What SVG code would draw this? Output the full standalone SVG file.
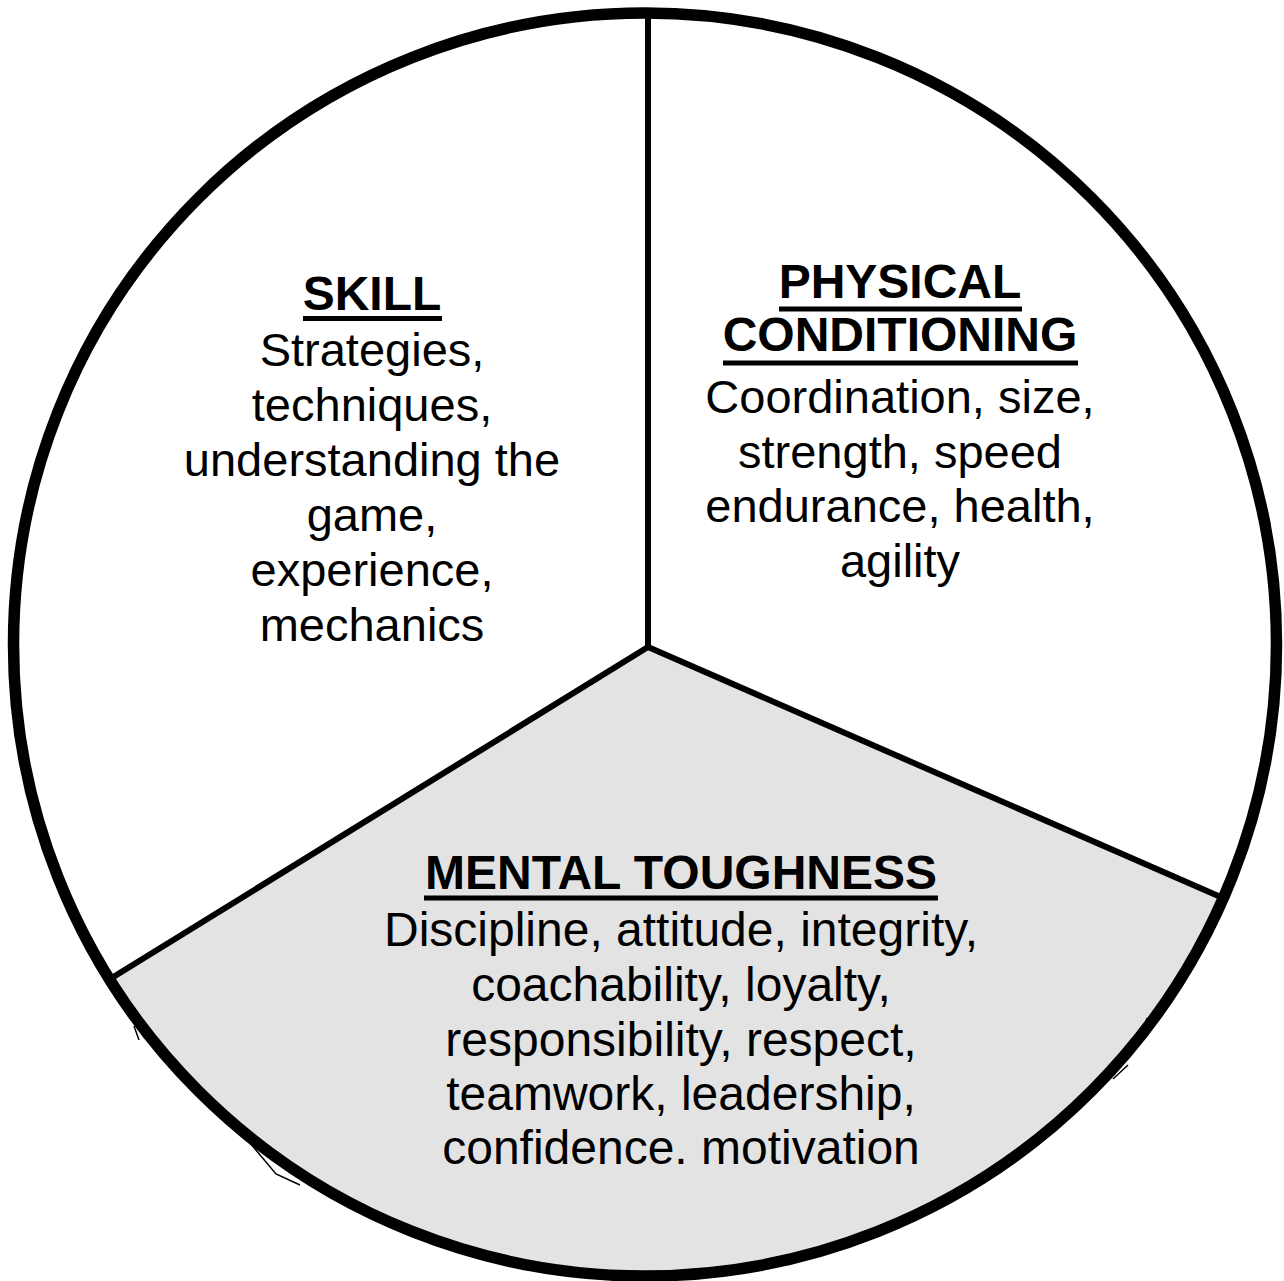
<svg xmlns="http://www.w3.org/2000/svg" width="1284" height="1281" viewBox="0 0 1284 1281">
<style>
  .t { font-family: "Liberation Sans", Arial, sans-serif; font-size: 47px; fill: #000; text-anchor: middle; }
  .m { font-size: 48px; }
  .h { font-family: "Liberation Sans", Arial, sans-serif; font-size: 48px; font-weight: bold; fill: #000; text-anchor: middle; }
  .ul { stroke: #000; stroke-width: 5; }
  .div { stroke: #000; stroke-width: 6; fill: none; }
</style>
<rect width="1284" height="1281" fill="#fff"/>
<g id="mental-sector">
  <path d="M648,647 L108.7,979.6 A631.5,631.5 0 0 0 1224,898.8 Z" fill="#e3e3e3"/>
  <path d="M134,1026 L139,1040 M250,1143 L276,1174 L300,1185 M1147,1018 L1145,1026 M1128,1065 L1113,1079" stroke="#000" stroke-width="1.5" fill="none"/>
</g>
<g id="connectors">
  <line class="div" x1="648" y1="10" x2="648" y2="648"/>
  <line class="div" x1="648" y1="647" x2="110" y2="979"/>
  <line class="div" x1="648" y1="647" x2="1223" y2="898"/>
</g>
<g id="circle">
  <circle cx="645" cy="644.5" r="631.5" fill="none" stroke="#000" stroke-width="11.5"/>
</g>
<g id="skill">
  <text class="h" x="372" y="310">SKILL</text>
  <line class="ul" x1="303" y1="318.5" x2="442" y2="318.5"/>
  <text class="t" x="372" y="366">Strategies,</text>
  <text class="t" x="372" y="421">techniques,</text>
  <text class="t" x="372" y="476">understanding the</text>
  <text class="t" x="372" y="531">game,</text>
  <text class="t" x="372" y="586">experience,</text>
  <text class="t" x="372" y="641">mechanics</text>
</g>
<g id="physical">
  <text class="h" x="900" y="298">PHYSICAL</text>
  <line class="ul" x1="779" y1="309" x2="1022" y2="309"/>
  <text class="h" x="900" y="351">CONDITIONING</text>
  <line class="ul" x1="723" y1="363" x2="1078" y2="363"/>
  <text class="t" x="900" y="413">Coordination, size,</text>
  <text class="t" x="900" y="467.5">strength, speed</text>
  <text class="t" x="900" y="522">endurance, health,</text>
  <text class="t" x="900" y="576.5">agility</text>
</g>
<g id="mental">
  <text class="h" x="681" y="889">MENTAL TOUGHNESS</text>
  <line class="ul" x1="424" y1="898" x2="938" y2="898"/>
  <text class="t m" x="681" y="946">Discipline, attitude, integrity,</text>
  <text class="t m" x="681" y="1001">coachability, loyalty,</text>
  <text class="t m" x="681" y="1056">responsibility, respect,</text>
  <text class="t m" x="681" y="1110">teamwork, leadership,</text>
  <text class="t m" x="681" y="1164">confidence. motivation</text>
</g>
</svg>
